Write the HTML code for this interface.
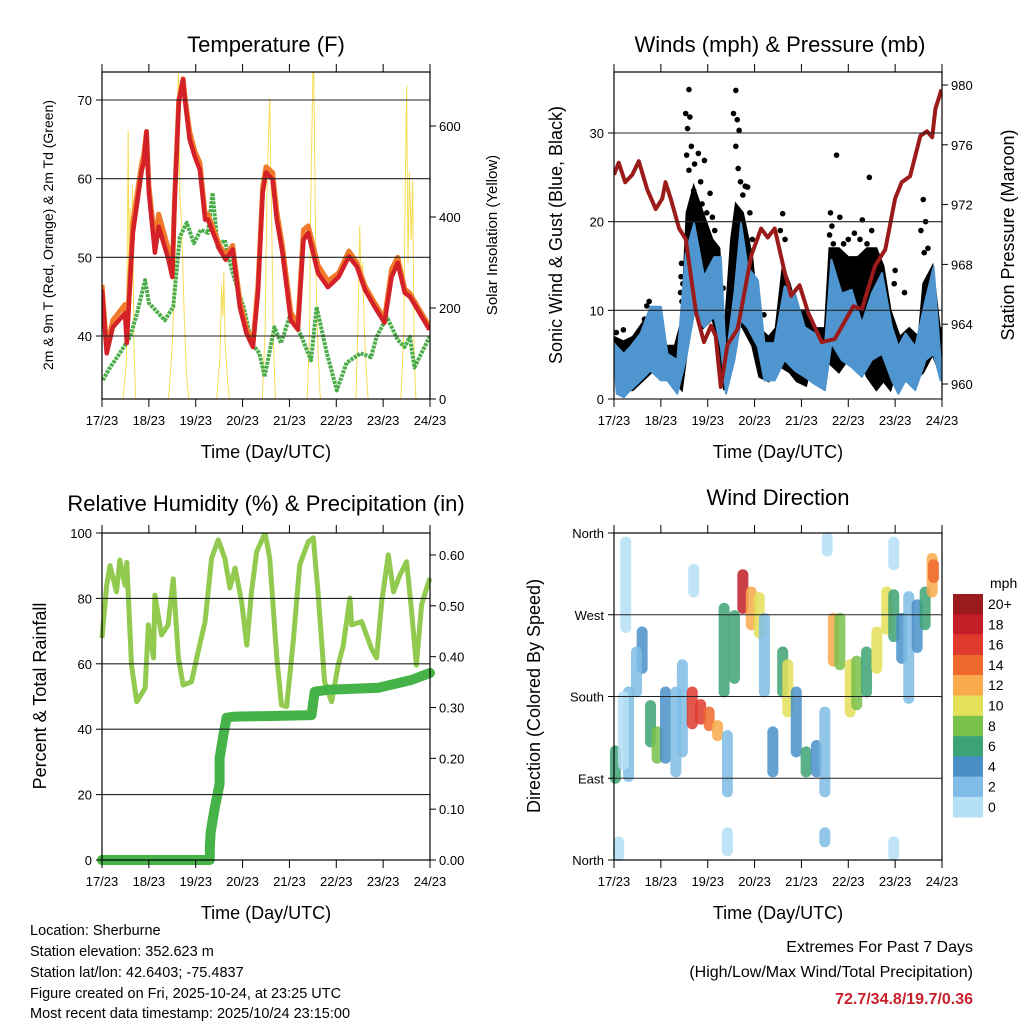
<!DOCTYPE html>
<html><head><meta charset="utf-8">
<style>
html,body{margin:0;padding:0;background:#fff;}
svg{display:block;font-family:"Liberation Sans",sans-serif;}
</style></head>
<body>
<svg id="chart" width="1024" height="1024" viewBox="0 0 1024 1024" xmlns="http://www.w3.org/2000/svg">
<rect x="0" y="0" width="1024" height="1024" fill="#fff"/>
<text x="266" y="52" font-size="22" text-anchor="middle">Temperature (F)</text>
<text x="780" y="52" font-size="22" text-anchor="middle">Winds (mph) &amp; Pressure (mb)</text>
<text x="266" y="511" font-size="22" text-anchor="middle">Relative Humidity (%) &amp; Precipitation (in)</text>
<text x="778" y="505" font-size="22" text-anchor="middle">Wind Direction</text>
<text transform="translate(53,235) rotate(-90)" font-size="14" text-anchor="middle">2m &amp; 9m T (Red, Orange) &amp; 2m Td (Green)</text>
<text transform="translate(497,235) rotate(-90)" font-size="15" text-anchor="middle">Solar Insolation (Yellow)</text>
<text transform="translate(562,235) rotate(-90)" font-size="18" text-anchor="middle">Sonic Wind &amp; Gust (Blue, Black)</text>
<text transform="translate(1014,235) rotate(-90)" font-size="18" text-anchor="middle">Station Pressure (Maroon)</text>
<text transform="translate(46,696) rotate(-90)" font-size="18" text-anchor="middle">Percent &amp; Total Rainfall</text>
<text transform="translate(540,696) rotate(-90)" font-size="18" text-anchor="middle">Direction (Colored By Speed)</text>
<text x="266" y="458" font-size="18" text-anchor="middle">Time (Day/UTC)</text>
<text x="778" y="458" font-size="18" text-anchor="middle">Time (Day/UTC)</text>
<text x="266" y="919" font-size="18" text-anchor="middle">Time (Day/UTC)</text>
<text x="778" y="919" font-size="18" text-anchor="middle">Time (Day/UTC)</text>
<g font-size="14.5">
<text x="30" y="935">Location: Sherburne</text>
<text x="30" y="956">Station elevation: 352.623 m</text>
<text x="30" y="977">Station lat/lon: 42.6403; -75.4837</text>
<text x="30" y="998">Figure created on Fri, 2025-10-24, at 23:25 UTC</text>
<text x="30" y="1018">Most recent data timestamp: 2025/10/24 23:15:00</text>
</g>
<g font-size="16" text-anchor="end">
<text x="973" y="952">Extremes For Past 7 Days</text>
<text x="973" y="977">(High/Low/Max Wind/Total Precipitation)</text>
<text x="973" y="1004" fill="#c8202a" font-weight="bold">72.7/34.8/19.7/0.36</text>
</g>
<g id="layer"></g>
</svg>
<script>
const dayLabels = ["17/23","18/23","19/23","20/23","21/23","22/23","23/23","24/23"];
const tempTicks = [40,50,60,70];
const solarTicks = [0,200,400,600];
const windTicks = [0,10,20,30];
const presTicks = [960,964,968,972,976,980];
const rhTicks = [0,20,40,60,80,100];
const rainTicks = [0,0.1,0.2,0.3,0.4,0.5,0.6];
const dirTicks = [0,90,180,270,360];
const dirTickLabels = ["North","East","South","West","North"];

const tempT = [0,0.1,0.23,0.49,0.53,0.66,0.85,0.89,0.95,1.0,1.13,1.21,1.42,1.5,1.55,1.64,1.73,1.77,1.87,1.98,2.09,2.2,2.26,2.51,2.64,2.79,2.94,3.08,3.22,3.33,3.43,3.5,3.64,3.73,3.85,4.03,4.18,4.3,4.4,4.61,4.82,5.05,5.27,5.44,5.61,5.82,6.03,6.18,6.31,6.46,6.57,6.99];
const tempRed = [45.9,37.8,41.1,42.9,39.1,53.1,61.1,62,66,58.2,50.6,53.9,49.7,47.5,56.9,69.7,72.6,70,65,62.8,61.1,54.8,54.8,51,49.7,51,43.7,40.4,38.6,45.5,58.2,60.8,59.9,54.8,50.6,42,40.8,52.2,53.1,48,46.2,47.5,50.1,48.8,45.9,43.7,41.7,47.5,49.3,45.5,45,40.8];
const tempOrange = [46.5,38.5,42,44,40,54.5,62,63,66,59,52,55.5,51,48.5,57.5,70,72.7,70.5,66,63.5,62,55.5,55.5,51.5,50.3,51.5,44.5,41,39,46.5,59,61.5,60.8,55.8,51.5,43,41.5,53.5,54,49,47,48,50.8,49.3,46.4,44.2,42.2,48.5,50,46,45.4,41.2];
const dewT = [0.02,0.17,0.38,0.6,0.75,0.92,1.0,1.34,1.52,1.66,1.81,1.96,2.11,2.26,2.36,2.47,2.62,2.77,2.9,3.04,3.19,3.36,3.47,3.68,3.82,4.03,4.26,4.46,4.58,4.8,5.01,5.22,5.52,5.74,5.86,6.08,6.31,6.46,6.57,6.67,6.99];
const dewV = [34.4,36,37.8,39.9,42.9,47.1,44.2,42,43.7,52.6,54.4,51.8,53.5,53.1,58.2,51.3,52.2,48.4,45.9,43.3,39.1,37.8,34.8,41.1,39.1,42.9,39.9,36.9,43.7,37.8,33.1,36.6,37.8,37.3,39.9,42.4,39.5,38.6,39.9,36,39.9,36.9];
const solarT = [0,0.45,0.52,0.56,0.58,0.6,0.63,0.65,0.68,0.72,1.42,1.5,1.56,1.6,1.63,1.66,1.7,1.75,1.8,1.85,2.45,2.52,2.55,2.58,2.6,2.63,2.68,2.72,3.42,3.48,3.52,3.55,3.58,3.62,3.66,3.7,4.38,4.43,4.45,4.5,4.52,4.55,4.58,4.62,4.66,5.42,5.47,5.5,5.53,5.56,5.6,5.64,5.68,6.38,6.44,6.47,6.5,6.53,6.56,6.6,6.63,6.66,6.7,7];
const solarV = [0,0,80,590,180,420,300,470,120,0,0,120,300,600,720,450,380,200,60,0,0,100,250,180,280,120,40,0,0,150,450,560,660,400,120,0,0,150,400,720,720,420,200,80,0,0,200,380,250,300,150,60,0,0,150,450,690,300,500,350,480,100,0,0];

const windT = [0,0.06,0.21,0.35,0.57,0.78,1.0,1.14,1.35,1.53,1.71,1.92,2.14,2.28,2.39,2.57,2.71,2.85,3.07,3.21,3.43,3.64,3.86,4.07,4.28,4.5,4.64,4.86,5.07,5.29,5.5,5.72,5.93,6.07,6.22,6.43,6.65,6.82,6.97];
const windHi = [6.3,5.9,5.1,5.9,7.4,10.4,10.4,5.1,4.4,16.4,19.8,13.8,16.0,16.0,4.4,11.9,19.8,14.9,13.4,6.3,6.3,12.7,11.9,8.1,7.4,5.9,15.7,11.9,12.3,8.5,11.9,14.2,8.1,5.9,7.4,5.9,11.2,14.9,4.4];
const windLo = [4.4,0.6,0.2,1.0,2.1,3.2,2.1,2.1,0.6,4.4,9.7,8.1,9.3,5.9,0.6,4.4,8.9,8.1,5.9,2.1,2.1,4.4,3.2,2.5,1.7,1.0,6.3,4.4,3.6,2.5,4.4,5.1,2.1,0.6,2.1,1.0,4.4,5.1,2.1];
const gustT = [0,0.2,0.4,0.6,0.8,1.0,1.1,1.3,1.45,1.55,1.7,1.9,2.1,2.25,2.35,2.5,2.6,2.75,2.95,3.1,3.3,3.45,3.6,3.75,3.9,4.1,4.3,4.5,4.6,4.8,5.0,5.2,5.4,5.6,5.75,5.9,6.1,6.3,6.5,6.6,6.8,6.95,7];
const gustV = [7,6.5,7,8.5,10,9,6,6,9,21,24,21,18,17,7,18,22,21,16,8,7,8,15,13,10,10,8,8,17,17,16,16,17,17,15,10,7,8,7,13,15,8,8];
const gustLo = [4.5,1,1,2,3,3,2.5,2,1,5,10,8,9,6,1,5,9,8,6,2.5,2,4,3.5,3,2,1.5,6,4.5,4,3,4.5,5,2.5,1,2,1,4.5,5,2.5,3,5,3,3];
const peakT = [1.53,1.57,1.6,1.62,1.55,1.6,1.65,1.7,1.72,1.75,1.8,1.85,1.88,1.93,1.98,2.05,2.1,2.15,2.2,2.55,2.6,2.63,2.67,2.6,2.65,2.7,2.75,2.8,2.85,2.9,2.95,3.6,3.55,3.65,4.62,4.6,4.65,4.68,4.82,4.9,5.0,5.13,5.3,5.25,5.4,5.5,5.55,4.75,5.45,6.6,6.65,6.55,6.7,6.62,1.42,1.43,1.44,1.47,1.45,6.0,5.98,6.2,2.33,3.2,0.05,0.2,0.65,0.7,0.75];
const peakV = [32.2,30.5,34.9,31.8,27.5,25.8,28.5,23.5,26.5,22.5,27.7,24.5,22,26.9,21,23.2,20.5,19,17,32.2,34.8,31.5,30.3,28.5,26,24.5,23,24,23.9,21,18,20.9,19,18,21,18.5,19.5,17.5,20.5,17.5,18,18.7,20.2,18,17.5,19,16.5,27.5,25,22.5,20,19,17,16.5,12,13.8,15.3,13,11,14.5,13,12,12.5,9.5,7.5,7.8,9,10.5,11];
const presT = [0,0.1,0.24,0.39,0.53,0.71,0.89,1.03,1.1,1.21,1.39,1.53,1.75,1.92,2.07,2.17,2.28,2.42,2.64,2.93,3.14,3.28,3.43,3.64,3.78,3.96,4.14,4.43,4.71,5.11,5.29,5.57,5.79,6.0,6.14,6.32,6.54,6.68,6.79,6.86,6.99];
const presV = [974.0,974.8,973.5,974.0,974.9,973.0,971.7,972.4,973.5,972.4,970.4,969.7,964.8,962.8,963.9,963.2,959.8,962.6,963.7,968.6,970.4,969.8,970.4,967.5,965.9,966.6,964.8,962.8,963.0,965.2,965.0,967.9,969.0,972.4,973.5,973.9,976.6,976.9,976.5,978.4,979.7];

const rhT = [0,0.1,0.17,0.31,0.38,0.49,0.53,0.63,0.74,0.92,0.99,1.1,1.13,1.27,1.41,1.52,1.63,1.73,1.91,2.05,2.2,2.34,2.48,2.62,2.73,2.84,2.98,3.09,3.19,3.3,3.48,3.58,3.73,3.83,3.94,4.08,4.22,4.4,4.51,4.61,4.75,4.9,5.04,5.15,5.29,5.33,5.54,5.75,5.86,5.97,6.11,6.22,6.36,6.5,6.6,6.71,6.82,6.93,7.0];
const rhV = [67.9,84,90,82,91.7,84,91,59.6,48.4,52.5,71.9,61.8,81,68.8,71.9,86,61.8,53.5,54.5,63.7,72.9,92.3,97.9,92.3,83.2,89.3,79,65.7,82,94.2,100,92.3,61.8,47.4,46.9,66.7,90.2,97.3,98.5,82,54.5,48.4,59.6,65.7,80.1,71.9,72.9,64.7,61.8,79,93.3,82,87.2,91.2,77,59.6,78,83.2,86.2];
const rainT = [0,1,2,2.3,2.3,2.32,2.4,2.51,2.51,2.59,2.66,2.84,3.5,4.47,4.54,4.83,5.9,6.6,7.0];
const rainV = [0,0,0,0,0.024,0.055,0.10,0.15,0.20,0.246,0.28,0.282,0.283,0.285,0.331,0.335,0.339,0.354,0.368];

const dirSegT = [0.03,0.31,0.2,0.6,0.48,0.78,0.92,1.1,1.32,1.46,1.67,1.85,2.03,2.21,2.42,2.35,2.57,2.75,2.93,3.1,3.21,3.39,3.6,3.71,3.89,4.1,4.32,4.5,4.68,4.82,5.04,5.18,5.39,5.61,5.82,5.97,6.14,6.29,6.47,6.64,6.79,6.82,0.25,2.42,4.5,5.97,0.1,1.7,4.55,5.97];
const dirSegLo = [90,92,105,211,185,130,112,112,97,119,150,155,148,137,75,185,200,277,259,250,185,97,185,163,119,97,97,75,219,215,163,171,185,211,254,246,222,178,234,259,295,311,256,10,20,5,5,295,340,325];
const dirSegHi = [120,185,180,251,229,170,141,185,185,215,185,171,163,148,137,277,269,314,295,289,266,141,229,215,185,119,126,163,266,266,215,219,229,251,295,292,266,290,281,295,332,325,350,30,30,20,20,320,355,350];
const dirSegSpd = [6,3,1,5,3,7,8,4,2.5,3.5,17,16,14,13,3,6,6,18,13,10,3,4,6,10,5,6.5,4,2,12,9,10,8,7,11,10,6,4,3.5,5,7,12,14,1,1,2,1,1,1,1,1];
const cbLabels = ["20+","18","16","14","12","10","8","6","4","2","0"];
const cbColors = ["#9b1a1d","#c31e26","#e03a2d","#f06a2e","#f9ab4b","#e5e05a","#79c14b","#3ea374","#4a90c8","#7fbde6","#b6e0f6"];

const NS = "http://www.w3.org/2000/svg";
const layer = document.getElementById("layer");
function mk(tag, attrs, name, parent) {
  const el = document.createElementNS(NS, tag);
  for (const k in attrs) el.setAttribute(k, attrs[k]);
  
  
  (parent || layer).appendChild(el);
  return el;
}
function txt(x, y, s, size, anchor, name) {
  const t = mk("text", {x: x, y: y, "font-size": size, "text-anchor": anchor}, name);
  t.textContent = s;
  return t;
}
function linear(d0, d1, r0, r1) { return v => r0 + (v - d0) * (r1 - r0) / (d1 - d0); }
function pathOf(xs, ys, fx, fy) { return xs.map((t, i) => (i ? "L" : "M") + fx(t).toFixed(1) + "," + fy(ys[i]).toFixed(1)).join(""); }
function bandOf(xs, hi, lo, fx, fy) {
  let d = xs.map((t, i) => (i ? "L" : "M") + fx(t).toFixed(1) + "," + fy(hi[i]).toFixed(1)).join("");
  for (let i = xs.length - 1; i >= 0; i--) d += "L" + fx(xs[i]).toFixed(1) + "," + fy(lo[i]).toFixed(1);
  return d + "Z";
}
function speedColor(s) { let i = Math.min(10, Math.floor(s / 2)); return cbColors[10 - i]; }

function frame(x0, x1, y0, y1, xf, prefix) {
  mk("rect", {x: x0, y: y0, width: x1 - x0, height: y1 - y0, fill: "none", stroke: "#000", "stroke-width": 1.2}, prefix + "-frame");
  dayLabels.forEach((lab, i) => {
    const x = xf(i);
    mk("line", {x1: x, x2: x, y1: y0, y2: y0 - 8, stroke: "#000", "stroke-width": 1}, prefix + "-x-tick-top");
    mk("line", {x1: x, x2: x, y1: y1, y2: y1 + 8, stroke: "#000", "stroke-width": 1}, prefix + "-x-tick");
    txt(x, y1 + 26, lab, 13, "middle", prefix + "-x-tick-label");
  });
}
function leftAxis(vals, labels, yf, x0, x1, grid, prefix, skipGridFirst) {
  vals.forEach((v, i) => {
    const y = yf(v);
    mk("line", {x1: x0 - 6, x2: x0, y1: y, y2: y, stroke: "#000"}, prefix + "-y-tick");
    if (grid && !(skipGridFirst && (i === 0 || i === vals.length - 1))) mk("line", {x1: x0, x2: x1, y1: y, y2: y, stroke: "#222", "stroke-width": 1.1}, prefix + "-gridline");
    txt(x0 - 10, y + 5, labels[i], 13, "end", prefix + "-y-tick-label");
  });
}
function rightAxis(vals, labels, yf, x1, prefix) {
  vals.forEach((v, i) => {
    const y = yf(v);
    mk("line", {x1: x1, x2: x1 + 6, y1: y, y2: y, stroke: "#000"}, prefix + "-right-tick");
    txt(x1 + 9, y + 5, labels[i], 13, "start", prefix + "-right-tick-label");
  });
}

// ---------- Panel 1: Temperature ----------
const xT = linear(0, 7, 102, 430);
const yT = linear(40, 70, 336, 100);
const yS = linear(0, 600, 399, 126);
const clip1 = mk("clipPath", {id: "c1"}, "temperature-clip");
mk("rect", {x: 102, y: 72, width: 328, height: 327}, "temperature-clip-rect", clip1);
const g1 = mk("g", {"clip-path": "url(#c1)"}, "temperature-plot");
mk("path", {d: pathOf(solarT, solarV, xT, yS), fill: "none", stroke: "#f7dc55", "stroke-width": 1}, "solar-line", g1);
mk("path", {d: pathOf(dewT, dewV, xT, yT), fill: "none", stroke: "#4aac48", "stroke-width": 4, "stroke-dasharray": "3 1", "stroke-linejoin": "round"}, "dewpoint-line", g1);
mk("path", {d: pathOf(tempT, tempOrange, xT, yT), fill: "none", stroke: "#f07a2a", "stroke-width": 5, "stroke-linejoin": "round"}, "temp-9m-line", g1);
mk("path", {d: pathOf(tempT, tempRed, xT, yT), fill: "none", stroke: "#d42027", "stroke-width": 4.5, "stroke-linejoin": "round"}, "temp-2m-line", g1);
frame(102, 430, 72, 399, xT, "temperature");
leftAxis(tempTicks, tempTicks.map(String), yT, 102, 430, true, "temperature");
rightAxis(solarTicks, solarTicks.map(String), yS, 430, "solar");

// ---------- Panel 2: Winds ----------
const xW = linear(0, 7, 614, 942);
const yW = linear(0, 30, 399, 133);
const yP = linear(960, 980, 384, 85);
const clip2 = mk("clipPath", {id: "c2"}, "winds-clip");
mk("rect", {x: 614, y: 72, width: 328, height: 327}, "winds-clip-rect", clip2);
const g2 = mk("g", {"clip-path": "url(#c2)"}, "winds-plot");
mk("path", {d: bandOf(gustT, gustV, gustLo, xW, yW), fill: "#000", stroke: "#000", "stroke-width": 2}, "gust-band", g2);
peakT.forEach((t, i) => {
  mk("circle", {cx: xW(t), cy: yW(peakV[i]), r: 2.8, fill: "#000"}, "gust-point", g2);
});
mk("path", {d: bandOf(windT, windHi, windLo, xW, yW), fill: "#4f96d0", stroke: "#4f96d0", "stroke-width": 2, "stroke-linejoin": "round"}, "wind-band", g2);
mk("path", {d: pathOf(presT, presV, xW, yP), fill: "none", stroke: "#9b1b1b", "stroke-width": 4, "stroke-linejoin": "round"}, "pressure-line", g2);
frame(614, 942, 72, 399, xW, "winds");
leftAxis(windTicks, windTicks.map(String), yW, 614, 942, true, "winds");
rightAxis(presTicks, presTicks.map(String), yP, 942, "pressure");

// ---------- Panel 3: RH ----------
const yR = linear(0, 100, 860, 533);
const yRain = linear(0, 0.6, 860, 555);
const clip3 = mk("clipPath", {id: "c3"}, "humidity-clip");
mk("rect", {x: 96, y: 533, width: 340, height: 334}, "humidity-clip-rect", clip3);
const g3 = mk("g", {"clip-path": "url(#c3)"}, "humidity-plot");
mk("path", {d: pathOf(rhT, rhV, xT, yR), fill: "none", stroke: "#92c94f", "stroke-width": 5, "stroke-linejoin": "round"}, "humidity-line", g3);
mk("path", {d: pathOf(rainT, rainV, xT, yRain), fill: "none", stroke: "#45b347", "stroke-width": 10, "stroke-linejoin": "round", "stroke-linecap": "round"}, "precip-line", g3);
frame(102, 430, 533, 860, xT, "humidity");
leftAxis(rhTicks, rhTicks.map(String), yR, 102, 430, true, "humidity", true);
rightAxis(rainTicks, rainTicks.map(v => v.toFixed(2)), yRain, 430, "precip");

// ---------- Panel 4: Wind direction ----------
const yD = linear(0, 360, 860, 533);
const clip4 = mk("clipPath", {id: "c4"}, "direction-clip");
mk("rect", {x: 610, y: 529, width: 336, height: 335}, "direction-clip-rect", clip4);
const g4 = mk("g", {"clip-path": "url(#c4)"}, "direction-plot");
dirSegT.forEach((t, i) => {
  mk("line", {x1: xW(t), x2: xW(t), y1: yD(dirSegLo[i]), y2: yD(dirSegHi[i]), stroke: speedColor(dirSegSpd[i]), "stroke-width": 11, "stroke-linecap": "round", opacity: 0.85}, "direction-cluster", g4);
});
frame(614, 942, 533, 860, xW, "direction");
leftAxis(dirTicks, dirTickLabels, yD, 614, 942, true, "direction", true);
cbColors.forEach((c, i) => {
  mk("rect", {x: 953, y: 594 + i * 20.3, width: 30, height: 20.5, fill: c}, "colorbar-box");
  txt(988, 594 + i * 20.3 + 15, cbLabels[i], 14, "start", "colorbar-label");
});
txt(990, 588, "mph", 14, "start", "colorbar-title");
</script>
</body></html>
